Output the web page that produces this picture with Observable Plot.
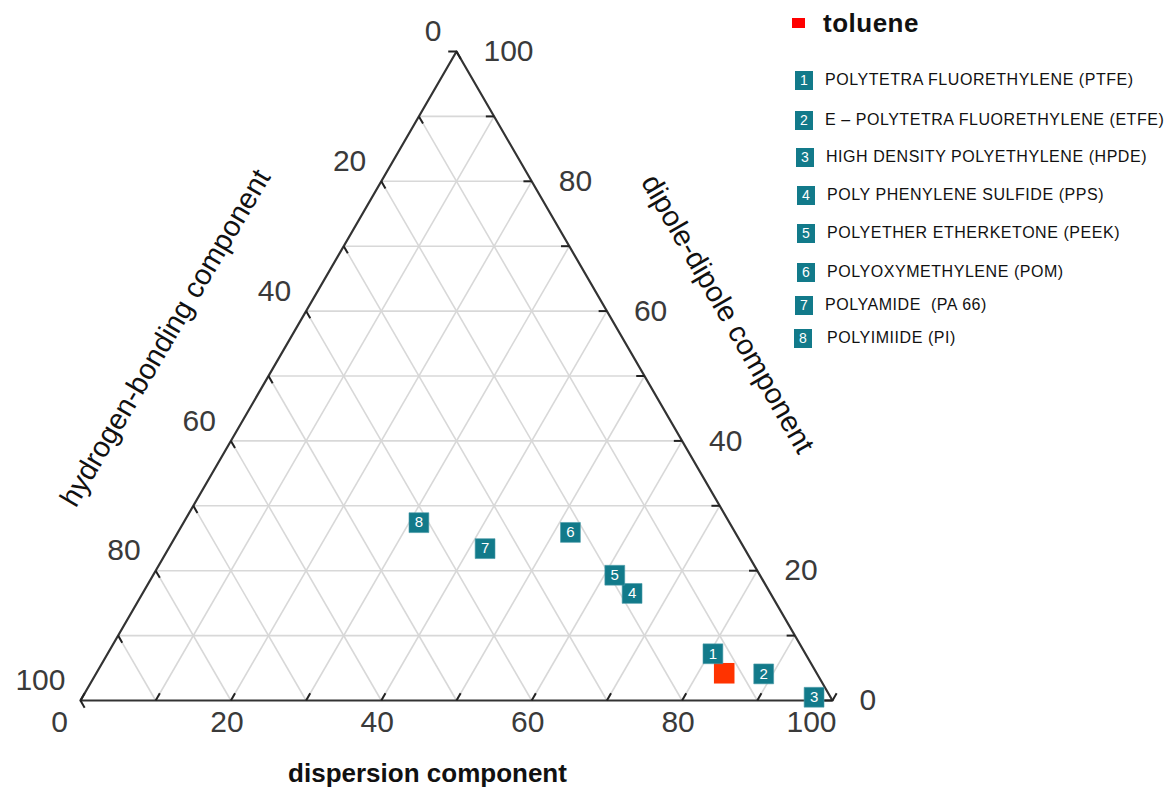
<!DOCTYPE html>
<html>
<head>
<meta charset="utf-8">
<script src="https://cdn.jsdelivr.net/npm/d3@7"></script>
<script src="https://cdn.jsdelivr.net/npm/@observablehq/plot@0.6"></script>
<style>
  html, body { margin: 0; padding: 0; background: #fff; }
  #wrap { position: relative; width: 1171px; height: 787px; font-family: "Liberation Sans", Arial, sans-serif; }
  #chart { position: absolute; left: 0; top: 0; }
  .leg { position: absolute; display: flex; align-items: center; height: 20px; white-space: pre; }
  .sw { width: 18px; height: 19px; background: #127a8a; color: #fff; font-size: 14px; display: flex; align-items: center; justify-content: center; }
  .lt { font-size: 16px; letter-spacing: 0.55px; color: #111; }
</style>
</head>
<body>
<div id="wrap"><div id="chart"></div><div id="legend"></div></div>
<script>
// ---- data (percent of total solubility parameter) ----
const markerLabels = ["1", "2", "3", "4", "5", "6", "7", "8"];
const polymerNames = [
  "POLYTETRA FLUORETHYLENE (PTFE)",
  "E \u2013 POLYTETRA FLUORETHYLENE (ETFE)",
  "HIGH DENSITY POLYETHYLENE (HPDE)",
  "POLY PHENYLENE SULFIDE (PPS)",
  "POLYETHER ETHERKETONE (PEEK)",
  "POLYOXYMETHYLENE (POM)",
  "POLYAMIDE  (PA 66)",
  "POLYIMIIDE (PI)"
];
const dispersion = [80.5, 88.8, 97.3, 65.1, 61.4, 52.2, 42.1, 31.3];
const dipole     = [7.2, 4.1, 0.5, 16.5, 19.3, 25.9, 23.4, 27.4];
const hydrogen   = [12.3, 7.1, 2.2, 18.4, 19.3, 21.9, 34.5, 41.3];

const solventName = "toluene";
const solventDispersion = [83.5];
const solventDipole = [4.2];
const solventHydrogen = [12.3];

const gridValues = [10, 20, 30, 40, 50, 60, 70, 80, 90];
const tickValues = [0, 10, 20, 30, 40, 50, 60, 70, 80, 90, 100];
const labelValues = [0, 20, 40, 60, 80, 100];

const titleBottom = "dispersion component";
const titleLeft = "hydrogen-bonding component";
const titleRight = "dipole-dipole component";

// ---- ternary → cartesian (d = dispersion, p = dipole) ----
const S3 = Math.sqrt(3) / 2;
const tx = (d, p) => d + p / 2;
const ty = (d, p) => p * S3;

const polymers = markerLabels.map((l, i) => ({label: l, d: dispersion[i], p: dipole[i], h: hydrogen[i]}));
const solvent = solventDispersion.map((d, i) => ({d, p: solventDipole[i], h: solventHydrogen[i]}));

// grid segments
const grid = [];
for (const v of gridValues) {
  grid.push({a: [v, 0], b: [v, 100 - v]});            // constant dispersion
  grid.push({a: [0, v], b: [100 - v, v]});            // constant dipole
  grid.push({a: [0, 100 - v], b: [100 - v, 0]});      // constant hydrogen
}
const outline = [[0, 0], [100, 0], [0, 100], [0, 0]];
const tk = 1.1;
const ticks = [];
for (const v of tickValues) {
  ticks.push({a: [v, 0], b: [v, tk]});
  ticks.push({a: [100 - v, v], b: [100 - v - tk, v]});
  ticks.push({a: [0, 100 - v], b: [tk, 100 - v - tk]});
}
const fx1 = s => tx(...s.a), fy1 = s => ty(...s.a), fx2 = s => tx(...s.b), fy2 = s => ty(...s.b);

const font = "Liberation Sans, Arial, sans-serif";
const tickFill = "#3a3a3a";

const plot = Plot.plot({
  width: 1171,
  height: 787,
  style: {background: "#fff", fontFamily: font},
  x: {domain: [0, 100], range: [80, 832], axis: null},
  y: {domain: [0, 100 * S3], range: [700, 51], axis: null},
  marks: [
    Plot.link(grid, {x1: fx1, y1: fy1, x2: fx2, y2: fy2, stroke: "#d8d8d8", strokeWidth: 1.6}),
    Plot.line(outline, {x: q => tx(q[0], q[1]), y: q => ty(q[0], q[1]), stroke: "#333", strokeWidth: 2.2}),
    Plot.link(ticks, {x1: fx1, y1: fy1, x2: fx2, y2: fy2, stroke: "#222", strokeWidth: 2}),
    // bottom labels (dispersion)
    Plot.text(labelValues.filter(v => v > 0 && v < 100), {x: v => tx(v, 0), y: v => ty(v, 0), text: v => String(v), dx: -4, dy: 22, fontSize: 30, fill: tickFill}),
    Plot.text(labelValues.filter(v => v === 0 || v === 100), {x: v => tx(v, 0), y: v => ty(v, 0), text: v => String(v), dx: -21, dy: 22, fontSize: 30, fill: tickFill}),
    // right labels (dipole)
    Plot.text(labelValues, {x: v => tx(100 - v, v), y: v => ty(100 - v, v), text: v => String(v), textAnchor: "start", dx: 27, dy: 0, fontSize: 30, fill: tickFill}),
    // left labels (hydrogen)
    Plot.text(labelValues, {x: v => tx(0, 100 - v), y: v => ty(0, 100 - v), text: v => String(v), textAnchor: "end", dx: -15, dy: -20, fontSize: 30, fill: tickFill}),
    // axis titles
    Plot.text([titleBottom], {x: tx(50, 0), y: ty(50, 0), text: d => d, dx: -29, dy: 73, fontSize: 26, fontWeight: "bold", fill: "#111"}),
    Plot.text([titleLeft], {x: tx(0, 50), y: ty(0, 50), text: d => d, dx: -103, dy: -38, rotate: -59.5, fontSize: 29, fill: "#111"}),
    Plot.text([titleRight], {x: tx(50, 50), y: ty(50, 50), text: d => d, dx: 83, dy: -62, rotate: 60, fontSize: 29, fill: "#111"}),
    // solvent
    Plot.dot(solvent, {x: s => tx(s.d, s.p), y: s => ty(s.d, s.p), symbol: "square", r: 11.6, fill: "#ff3300"}),
    // polymers
    Plot.dot(polymers, {x: s => tx(s.d, s.p), y: s => ty(s.d, s.p), symbol: "square", r: 11.2, fill: "#127a8a", stroke: "#4a9aa8", strokeWidth: 0.6}),
    Plot.text(polymers, {x: s => tx(s.d, s.p), y: s => ty(s.d, s.p), text: "label", fill: "#fff", fontSize: 15})
  ]
});
document.getElementById("chart").appendChild(plot);

// ---- legend ----
const legend = document.getElementById("legend");
const legTops = [70, 110, 147, 185, 223, 262, 295, 328];
const legLeft = [795, 795, 796, 797, 797, 797, 795, 794];
const t = document.createElement("div");
t.className = "leg";
t.style.left = "792px"; t.style.top = "11px"; t.style.height = "24px";
t.innerHTML = `<div style="width:13px;height:10px;background:#ff0000;margin-right:18px"></div><span style="font-size:26px;font-weight:bold;letter-spacing:0.5px;color:#111">${solventName}</span>`;
legend.appendChild(t);
polymerNames.forEach((n, i) => {
  const el = document.createElement("div");
  el.className = "leg";
  el.style.left = legLeft[i] + "px";
  el.style.top = legTops[i] + "px";
  el.innerHTML = `<div class="sw">${markerLabels[i]}</div><span class="lt" style="margin-left:${i === 7 ? 15 : 12}px">${n}</span>`;
  legend.appendChild(el);
});
</script>
</body>
</html>
